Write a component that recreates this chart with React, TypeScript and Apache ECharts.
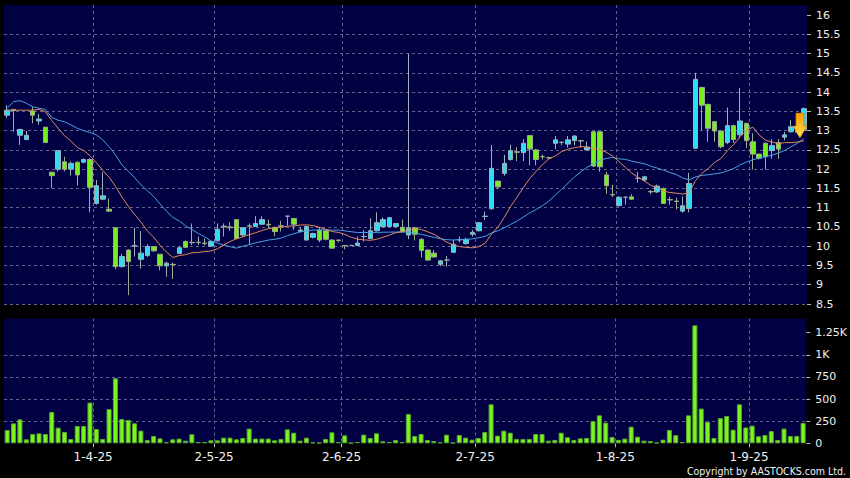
import React, { useEffect, useRef } from 'react';
import * as echarts from 'echarts';

const DATES = [
  '12-3-25','13-3-25','14-3-25','17-3-25','18-3-25','19-3-25','20-3-25','21-3-25','24-3-25','25-3-25','26-3-25','27-3-25','28-3-25','31-3-25',
  '1-4-25','2-4-25','3-4-25','7-4-25','8-4-25','9-4-25','10-4-25','11-4-25','14-4-25','15-4-25','16-4-25','17-4-25','22-4-25','23-4-25','24-4-25','25-4-25','28-4-25','29-4-25','30-4-25',
  '2-5-25','6-5-25','7-5-25','8-5-25','9-5-25','12-5-25','13-5-25','14-5-25','15-5-25','16-5-25','19-5-25','20-5-25','21-5-25','22-5-25','23-5-25','26-5-25','27-5-25','28-5-25','29-5-25','30-5-25',
  '2-6-25','3-6-25','4-6-25','5-6-25','6-6-25','9-6-25','10-6-25','11-6-25','12-6-25','13-6-25','16-6-25','17-6-25','18-6-25','19-6-25','20-6-25','23-6-25','24-6-25','25-6-25','26-6-25','27-6-25','30-6-25',
  '2-7-25','3-7-25','4-7-25','7-7-25','8-7-25','9-7-25','10-7-25','11-7-25','14-7-25','15-7-25','16-7-25','17-7-25','18-7-25','21-7-25','22-7-25','23-7-25','24-7-25','25-7-25','28-7-25','29-7-25','30-7-25','31-7-25',
  '1-8-25','4-8-25','5-8-25','6-8-25','7-8-25','8-8-25','11-8-25','12-8-25','13-8-25','14-8-25','15-8-25','18-8-25','19-8-25','20-8-25','21-8-25','22-8-25','25-8-25','26-8-25','27-8-25','28-8-25','29-8-25',
  '1-9-25','2-9-25','3-9-25','4-9-25','5-9-25','8-9-25','9-9-25','10-9-25','11-9-25'
];

const OPEN = [
  13.40,13.55,12.88,12.77,13.51,13.25,13.09,11.92,12.00,12.19,12.00,12.18,12.18,12.25,
  11.11,11.22,10.96,10.48,9.47,9.90,10.00,9.66,9.76,9.99,9.79,9.49,9.53,9.81,10.12,10.10,10.10,10.08,10.00,
  10.14,10.52,10.50,10.69,10.29,10.53,10.51,10.57,10.57,10.49,10.53,10.78,10.72,10.38,10.16,10.23,10.42,10.40,10.16,10.16,
  10.02,10.02,10.02,10.25,10.20,10.40,10.51,10.51,10.51,10.49,10.29,10.48,10.18,9.90,9.82,9.53,9.64,9.84,10.16,10.07,10.31,
  10.40,10.77,10.97,11.69,11.89,12.25,12.45,12.43,12.87,12.50,12.33,12.30,12.67,12.70,12.65,12.74,12.74,12.50,12.97,12.97,11.85,11.34,
  11.05,11.27,11.28,11.76,11.72,11.42,11.41,11.50,11.21,11.17,10.91,10.98,12.54,14.12,13.68,13.23,12.99,12.69,13.13,12.89,13.19,
  12.71,12.39,12.67,12.48,12.69,12.83,12.97,13.12,13.01
];
const CLOSE = [
  13.53,13.52,13.03,12.88,13.40,13.30,12.69,11.83,12.48,12.00,12.15,11.85,12.25,11.53,
  11.57,11.31,10.91,9.47,9.73,9.60,10.02,9.82,9.99,9.88,9.49,9.56,9.52,9.96,9.97,10.09,10.10,10.07,10.12,
  10.44,10.50,10.48,10.20,10.48,10.52,10.59,10.69,10.55,10.38,10.52,10.78,10.57,10.42,10.51,10.33,10.16,10.18,9.95,10.15,
  10.01,10.02,10.08,10.25,10.40,10.61,10.69,10.74,10.59,10.38,10.48,10.31,9.89,9.64,9.72,9.62,9.64,10.05,10.17,10.18,10.36,
  10.61,10.78,12.02,11.54,12.15,12.48,12.44,12.67,12.52,12.25,12.32,12.29,12.76,12.69,12.76,12.86,12.73,12.57,12.08,12.06,11.57,11.33,
  11.27,11.27,11.22,11.76,11.80,11.41,11.56,11.11,11.20,11.16,11.05,11.63,14.33,13.66,13.06,12.99,12.58,13.13,12.77,13.25,12.74,
  12.39,12.28,12.32,12.61,12.52,12.89,13.10,12.95,13.57
];
const LOW = [
  13.33,12.97,12.63,12.75,13.19,13.15,12.69,11.50,11.94,11.94,11.83,11.57,12.15,10.88,
  11.08,11.20,10.89,9.40,9.45,8.73,9.73,9.42,9.72,9.85,9.37,9.21,9.15,9.80,9.95,10.03,10.03,10.02,9.98,
  10.12,10.25,10.40,10.18,10.25,10.03,10.50,10.55,10.46,10.26,10.38,10.53,10.42,10.36,10.15,10.20,10.10,10.15,9.93,10.10,
  9.92,10.00,10.00,10.12,10.18,10.38,10.48,10.50,10.50,10.36,10.18,10.15,9.71,9.62,9.70,9.48,9.47,9.82,10.10,10.04,10.25,
  10.38,10.68,10.95,11.48,11.83,12.22,12.21,12.21,12.10,12.10,12.25,12.25,12.52,12.62,12.56,12.62,12.56,12.48,12.06,11.93,11.36,11.28,
  11.03,11.08,11.20,11.65,11.68,11.35,11.38,11.10,11.08,10.96,10.87,10.88,12.54,13.01,12.71,12.71,12.54,12.65,12.68,12.80,12.55,
  11.99,12.25,11.99,12.27,12.27,12.75,12.95,12.90,13.00
];
const HIGH = [
  13.66,13.56,13.05,12.99,13.62,13.43,13.09,11.93,12.48,12.32,12.20,12.20,12.28,12.28,
  11.72,11.92,11.24,10.48,9.80,9.92,10.48,10.39,10.05,10.00,9.80,9.60,9.58,10.00,10.15,10.59,10.25,10.20,10.15,
  10.59,10.59,10.62,10.70,10.50,10.59,10.78,10.78,10.69,10.50,10.66,10.78,10.73,10.50,10.53,10.35,10.50,10.42,10.18,10.17,
  10.03,10.03,10.25,10.42,10.73,10.88,10.75,10.76,10.60,10.69,14.99,10.50,10.21,9.92,9.90,9.64,9.75,10.16,10.25,10.22,10.42,
  10.63,10.90,12.63,11.70,12.37,12.63,12.57,12.78,12.88,12.52,12.38,12.32,12.86,12.72,12.86,12.88,12.76,12.72,12.97,12.97,11.93,11.59,
  11.30,11.29,11.35,11.93,11.82,11.46,11.60,11.52,11.28,11.26,11.29,11.90,14.50,14.14,13.70,13.25,13.00,13.60,13.15,14.11,13.20,
  12.93,12.40,12.70,12.78,12.78,12.97,13.28,13.15,13.60
];
const VOLUME = [
  150,225,270,45,105,113,105,354,177,128,49,196,196,460,
  162,49,388,735,275,264,226,143,38,83,56,12,45,53,30,102,15,15,34,
  34,64,64,45,60,166,53,53,53,34,49,158,120,30,64,11,8,49,124,15,
  90,4,15,98,60,113,23,15,38,15,331,83,105,38,26,11,98,6,94,64,41,
  60,128,441,87,143,120,49,49,49,105,105,30,38,120,68,38,56,60,249,316,234,72,
  38,53,188,75,30,26,8,41,151,92,15,316,1333,392,241,60,286,309,154,441,179,
  200,79,94,138,38,166,83,83,230
];

// moving-average lines at the left edge (their earlier closes are outside the chart)
const MA10_HEAD = [13.53, 13.53, 13.53, 13.53, 13.53, 13.55, 13.49, 13.26, 13.06];
const MA20_HEAD = [13.58, 13.75, 13.78, 13.71, 13.62, 13.58, 13.55, 13.34, 13.27, 13.23, 13.15, 13.06, 13.00, 12.95, 12.89, 12.76, 12.58, 12.37, 12.11];

const LABEL_DATES = ['1-4-25', '2-5-25', '2-6-25', '2-7-25', '1-8-25', '1-9-25'];
const PRICE_TICKS = [8.5, 9, 9.5, 10, 10.5, 11, 11.5, 12, 12.5, 13, 13.5, 14, 14.5, 15, 15.5, 16];
const VOLUME_TICKS = [0, 250, 500, 750, 1000, 1250];
const ARROW_AT = { index: 124, price: 13.13 };

function movingAverage(close: number[], period: number, head: number[]): number[] {
  return close.map((_, i) => {
    if (i < head.length) return head[i];
    let s = 0;
    for (let k = i - period + 1; k <= i; k++) s += close[k];
    return +(s / period).toFixed(3);
  });
}

const NAVY = '#000043';
const GRID_LINE = { color: '#62628e', type: [3, 3] as any, width: 1 };
const FONT = 'DejaVu Sans';

export default function App() {
  const ref = useRef<HTMLDivElement>(null);
  useEffect(() => {
    const chart = echarts.init(ref.current!, null, { renderer: 'svg' });
    const isLabel = (_i: number, v: string) => LABEL_DATES.includes(v);
    const ma10 = movingAverage(CLOSE, 10, MA10_HEAD);
    const ma20 = movingAverage(CLOSE, 20, MA20_HEAD);
    const option: any = {
      animation: false,
      backgroundColor: '#000000',
      grid: [
        { left: 4, top: 5, width: 803, height: 299, show: true, backgroundColor: NAVY, borderWidth: 0 },
        { left: 4, top: 318.5, width: 803, height: 124.8, show: true, backgroundColor: NAVY, borderWidth: 0 },
      ],
      xAxis: [
        { type: 'category', gridIndex: 0, position: 'bottom', data: DATES, boundaryGap: true, show: false },
        {
          type: 'category', gridIndex: 0, position: 'bottom', data: [...DATES, ''], boundaryGap: false,
          axisLine: { show: false }, axisTick: { show: false }, axisLabel: { show: false },
          splitLine: { show: true, interval: isLabel, lineStyle: GRID_LINE },
        },
        { type: 'category', gridIndex: 1, position: 'bottom', data: DATES, boundaryGap: true, show: false },
        {
          type: 'category', gridIndex: 1, position: 'bottom', data: [...DATES, ''], boundaryGap: false,
          axisLine: { show: false },
          axisTick: { show: true, interval: isLabel, length: 4, lineStyle: { color: '#b4b4b4' } },
          axisLabel: { show: true, interval: isLabel, color: '#f0f0f0', fontSize: 12, fontFamily: FONT, margin: 8 },
          splitLine: { show: true, interval: isLabel, lineStyle: GRID_LINE },
        },
      ],
      yAxis: [
        {
          type: 'value', gridIndex: 0, position: 'right', min: 8.5, max: 16.26, interval: 0.5,
          axisLine: { show: false },
          axisTick: { show: true, length: 4, customValues: PRICE_TICKS, lineStyle: { color: '#b4b4b4' } },
          axisLabel: { customValues: PRICE_TICKS, color: '#f0f0f0', fontSize: 11, fontFamily: FONT, margin: 9 },
          splitLine: { show: true, showMaxLine: false, lineStyle: GRID_LINE },
        },
        {
          type: 'value', gridIndex: 1, position: 'right', min: 0, max: 1410, interval: 250,
          axisLine: { show: false },
          axisTick: { show: true, length: 4, customValues: VOLUME_TICKS, lineStyle: { color: '#b4b4b4' } },
          axisLabel: {
            customValues: VOLUME_TICKS, color: '#f0f0f0', fontSize: 11, fontFamily: FONT, margin: 9,
            formatter: (v: number) => (v >= 1000 ? v / 1000 + 'K' : String(v)),
          },
          splitLine: { show: true, showMaxLine: false, showMinLine: false, lineStyle: GRID_LINE },
        },
      ],
      series: [
        {
          type: 'candlestick', xAxisIndex: 0, yAxisIndex: 0, barWidth: 5,
          data: DATES.map((_, i) => [OPEN[i], CLOSE[i], LOW[i], HIGH[i]]),
          itemStyle: { color: '#30dcf0', color0: '#78ee20', borderColor: '#9ab2ba', borderColor0: '#9aae8a', borderWidth: 1 },
          markPoint: {
            silent: true,
            symbol: 'path://M3,0 L11,0 L11,13 L14,13 L7,25 L0,13 L3,13 Z',
            symbolSize: [14, 25],
            symbolOffset: [2.5, 0],
            label: { show: false },
            itemStyle: {
              color: new echarts.graphic.LinearGradient(0, 0, 0, 1, [
                { offset: 0, color: '#ff9a00' },
                { offset: 1, color: '#ffe24a' },
              ]),
              borderColor: '#c87400', borderWidth: 0.6,
            },
            data: [{ coord: [ARROW_AT.index, ARROW_AT.price] }],
          },
        },
        {
          type: 'line', xAxisIndex: 0, yAxisIndex: 0, data: ma20, symbol: 'none', z: 3,
          lineStyle: { color: '#46a2e2', width: 1 },
        },
        {
          type: 'line', xAxisIndex: 0, yAxisIndex: 0, data: ma10, symbol: 'none', z: 4,
          lineStyle: { color: '#e38a5c', width: 1 },
        },
        {
          type: 'bar', xAxisIndex: 2, yAxisIndex: 1, data: VOLUME, barWidth: 5,
          itemStyle: { color: '#7af51e', borderColor: '#58a82a', borderWidth: 1 },
        },
      ],
      graphic: [
        {
          type: 'text', right: 4, top: 465, z: 10,
          style: { text: 'Copyright by AASTOCKS.com Ltd.', fill: '#f0f0f0', font: '10.5px "DejaVu Sans Condensed", "DejaVu Sans"' },
        },
      ],
    };
    chart.setOption(option);
    return () => chart.dispose();
  }, []);
  return (
    <div
      ref={ref}
      style={{ position: 'absolute', left: 0, top: 0, width: 850, height: 478, background: '#000' }}
    />
  );
}
